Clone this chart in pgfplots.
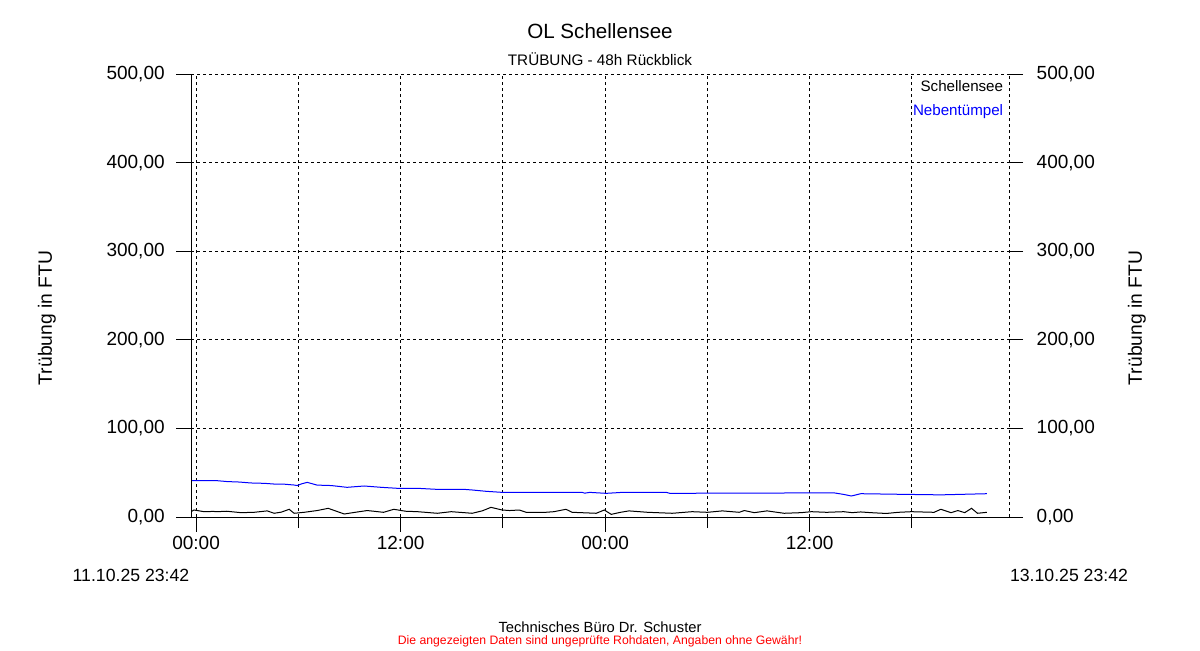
\documentclass[border=0pt]{standalone}
\usepackage{fontspec}
\setmainfont{Liberation Sans}
\usepackage{pgfplots}
\pgfplotsset{compat=1.18}

% 1 unit = 1 px of the reference (0.75bp)
\pgfplotstableread{
h v
-0.31 6
-0.12 7.9
0.47 6
1.0 6.3
1.23 6
1.8 6.5
2.64 4.9
3.4 5.3
4.17 6.9
4.58 4.2
5.0 5.5
5.46 8.7
5.75 4.2
6.34 5.3
7.1 7.3
7.75 9.8
8.69 3.4
9.4 5.5
10.04 7.3
11.0 5.3
11.6 8.7
12.3 6.5
13.0 6
14.15 4.2
14.97 6
15.73 4.9
16.2 4.2
16.8 7
17.3 10.9
17.96 7.9
18.4 7.3
18.96 7.9
19.37 5.3
20.5 5.3
21.0 6
21.7 8.7
22.07 5.3
23.48 4.2
23.95 7.9
24.36 3.0
24.9 5.3
25.4 6.9
26.5 5.3
27.94 4.2
29.1 6
30.0 5.3
30.88 6.9
31.87 5.3
32.17 7.3
32.75 4.9
33.5 6.9
34.5 4.2
35.5 4.9
36.1 6
37.0 5.3
38.0 6
38.5 4.9
39.0 5.7
39.6 4.9
40.5 4.0
41.2 5.3
41.97 6
43.3 5.3
43.7 8.7
44.3 4.9
44.7 7.3
45.1 4.9
45.5 9.8
45.85 4.2
46.4 5.3
}\schellensee

\pgfplotstableread{
h v
-0.31 41
1.23 41
1.82 40
2.5 39.5
3.23 38.4
4.0 38
4.58 37.2
5.2 37
5.75 36.1
5.93 35.5
6.2 37.5
6.52 39.1
7.1 36
7.93 35.5
8.86 33.5
9.86 35
10.86 33.5
11.8 32.4
12.97 32.4
14.15 31.2
15.73 31.2
16.2 30.5
17.02 29
17.96 27.8
22.66 27.8
22.8 26.9
23.1 27.8
24.07 26.7
25.0 27.8
27.6 27.8
27.8 26.7
31.9 27
37.45 27.2
38.0 25.5
38.45 23.7
39.0 26.3
41.4 25.6
43.7 25
46.4 26.3
}\nebentuempel

\begin{document}
\begin{tikzpicture}[x=0.75bp,y=0.75bp]
\path[use as bounding box] (-191,-133) rectangle (1009,517);

\begin{axis}[
    at={(0,0)}, anchor=south west,
    scale only axis, width=613.5bp, height=332.25bp,
    xmin=-0.3, xmax=47.7, ymin=0, ymax=500,
    axis line style={draw=none},
    tick align=outside, xtick pos=bottom, ytick pos=left,
    xtick={0,12,24,36}, xticklabels={00:00,12:00,00:00,12:00},
    minor xtick={6,18,30,42},
    ytick={0,100,...,500},
    major tick length=11bp, minor tick length=8.25bp,
    tick style={black, line width=0.75bp},
    grid=both,
    major grid style={black, line width=0.75bp, dash pattern=on 2.25bp off 2.25bp},
    minor grid style={black, line width=0.75bp, dash pattern=on 2.25bp off 2.25bp},
    ticklabel style={font=\fontsize{14.3}{16}\selectfont},
    yticklabel style={xshift=-5.25bp},
    yticklabel={\pgfmathprintnumber[fixed,fixed zerofill,precision=2,use comma,assume math mode=true]{\tick}},
    legend style={draw=none, fill=none, at={(axis description cs:1,1)}, anchor=north east,
        xshift=0.75bp, yshift=-1bp, font=\fontsize{11.4}{13}\selectfont, row sep=4bp},
    legend cell align=right,
    legend image code/.code={},
]
\addplot[black, line width=0.75bp] table[x=h, y=v] {\schellensee};
\addlegendentry{Schellensee}
\addplot[blue, line width=0.75bp] table[x=h, y=v] {\nebentuempel};
\addlegendentry{\textcolor{blue}{Nebentümpel}}
\end{axis}

\begin{axis}[
    at={(0,0)}, anchor=south west,
    scale only axis, width=613.5bp, height=332.25bp,
    xmin=-0.3, xmax=47.7, ymin=0, ymax=500,
    axis x line=none, axis y line*=right,
    axis line style={draw=none},
    tick align=outside,
    ytick={0,100,...,500},
    major tick length=10.5bp,
    tick style={black, line width=0.75bp},
    ticklabel style={font=\fontsize{14.3}{16}\selectfont},
    yticklabel style={xshift=6.75bp},
    yticklabel={\pgfmathprintnumber[fixed,fixed zerofill,precision=2,use comma,assume math mode=true]{\tick}},
]
\end{axis}

% frame
\draw[line width=0.75bp] (-13,0) -- (832,0);
\draw[line width=0.75bp] (0,0) -- (0,443);
\draw[line width=0.75bp, dash pattern=on 2.25bp off 2.25bp] (818,0) -- (818,443);

% texts
\node[font=\fontsize{15.5}{18}\selectfont] at (409,486) {OL Schellensee};
\node[font=\fontsize{11.5}{14}\selectfont] at (409,458) {TRÜBUNG - 48h Rückblick};
\node[rotate=90, font=\fontsize{14.5}{17}\selectfont] at (-144,199) {Trübung in FTU};
\node[rotate=90, font=\fontsize{14.5}{17}\selectfont] at (946,199) {Trübung in FTU};
\node[font=\fontsize{13.3}{16}\selectfont] at (-60,-58) {11.10.25 23:42};
\node[font=\fontsize{13.3}{16}\selectfont] at (878,-58) {13.10.25 23:42};
\node[font=\fontsize{11.1}{13}\selectfont] at (409,-110) {Technisches Büro Dr. Schuster};
\node[font=\fontsize{9.2}{11}\selectfont, text=red] at (409,-124) {Die angezeigten Daten sind ungeprüfte Rohdaten, Angaben ohne Gewähr!};
\end{tikzpicture}
\end{document}
